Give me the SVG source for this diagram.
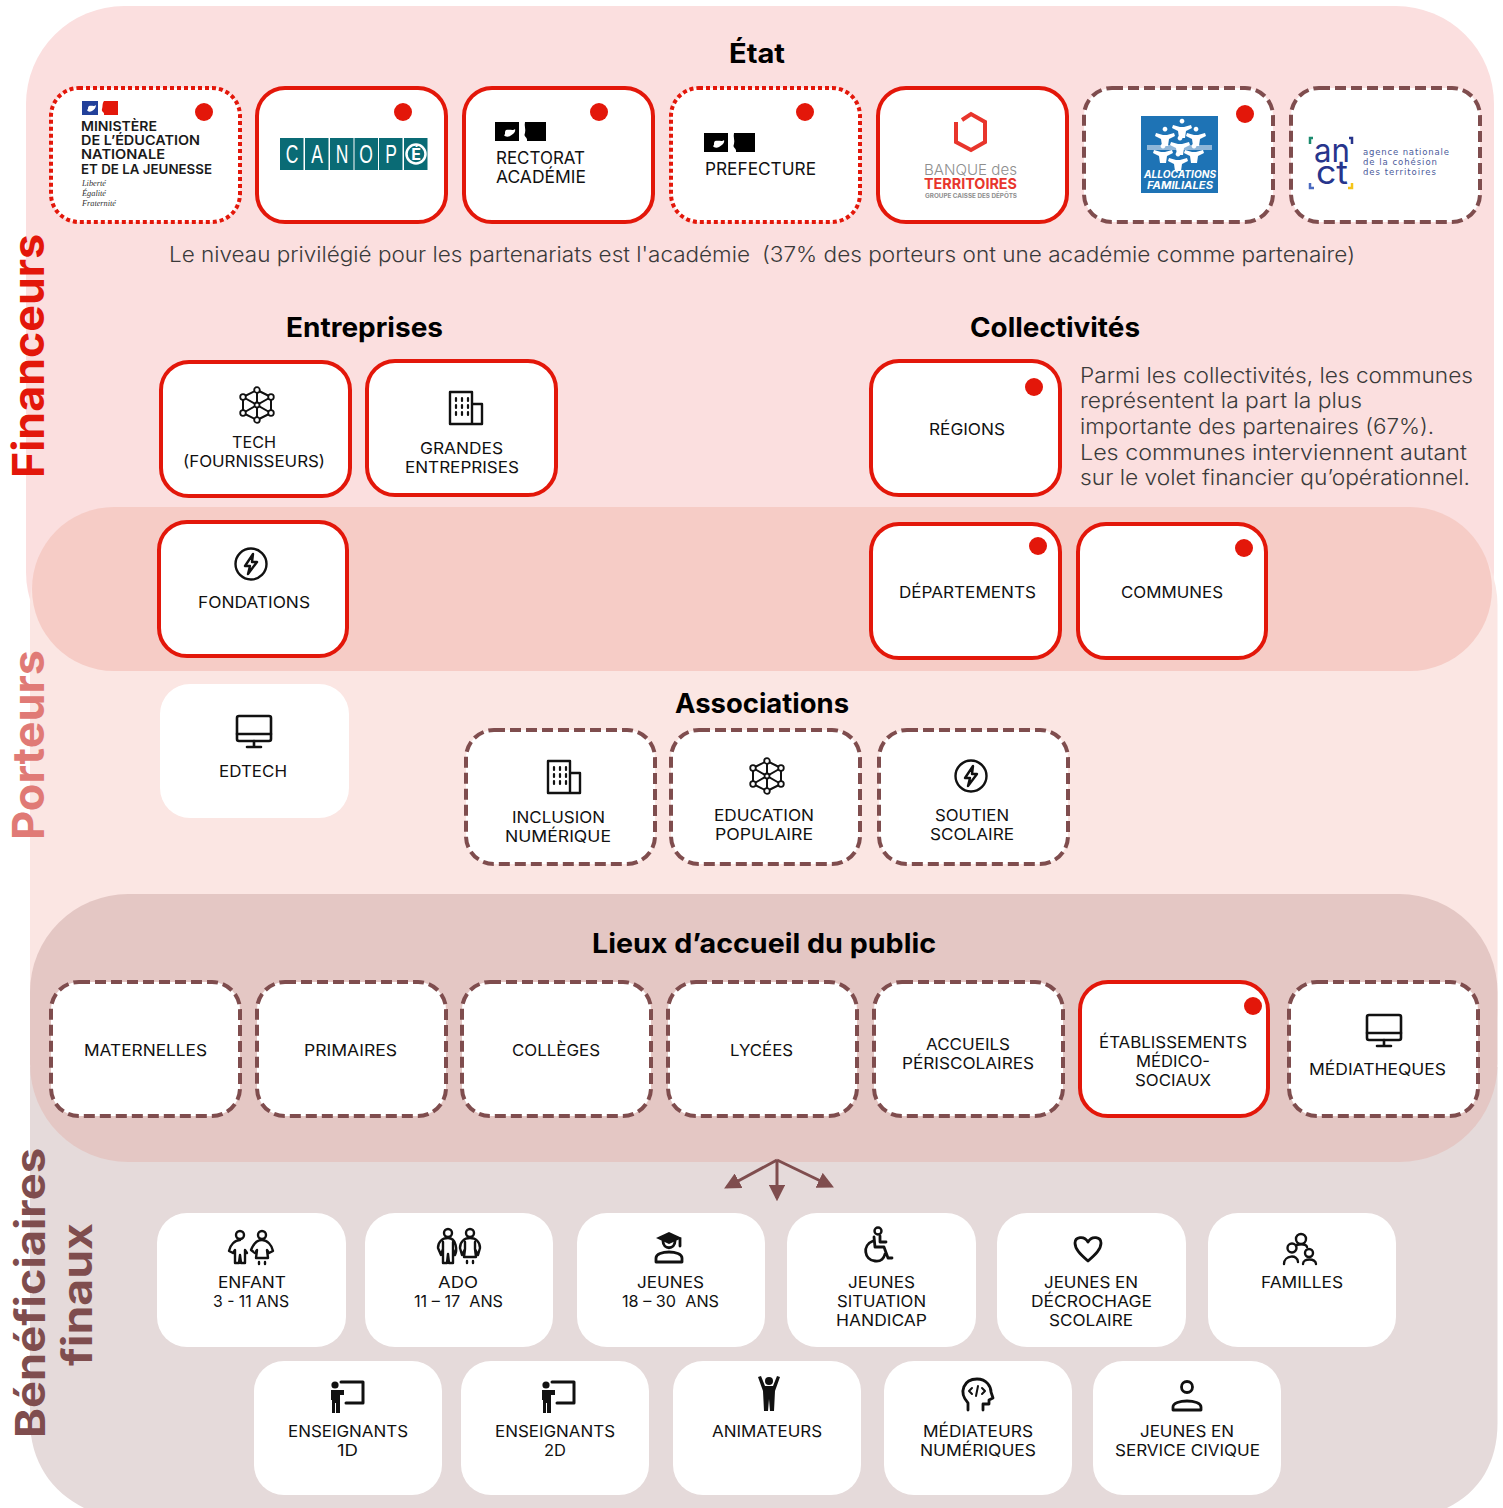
<svg xmlns="http://www.w3.org/2000/svg" xmlns:xlink="http://www.w3.org/1999/xlink" width="1503" height="1508" viewBox="0 0 1503 1508">
<style>
text{font-family:"Inter","Liberation Sans",sans-serif;fill:#111}
.l{font-size:16px}
.h{font-size:27px;font-weight:700;fill:#000}
.p{font-size:21px;fill:#3a3a3a;font-weight:300}
.s{font-size:44px;font-weight:700}
.box{fill:#fff;stroke-width:4}
.red{stroke:#e3170a}
.dash{stroke:#7f4d4e;stroke-dasharray:11 5}
.dot{stroke:#e3170a;stroke-dasharray:4 3}
.plain{stroke:none}
.m{fill:#e3170a}
.i{fill:none;stroke:#111;stroke-width:2.4;stroke-linejoin:round;stroke-linecap:round}
.f{fill:#111;stroke:none}
.log{font-weight:600;font-size:13.5px;fill:#1a1a1a}
.ser{font-family:"Liberation Serif",serif;font-style:italic;font-size:8px;fill:#333}
.caf{font-weight:700;font-style:italic;font-size:10px;fill:#fff}
.anc{font-family:"DejaVu Sans",sans-serif;font-size:8.5px;fill:#4a5a9a}
.tile{font-family:"Liberation Sans",sans-serif;font-size:25px;fill:#fff;text-anchor:middle}
</style>
<defs>
<marker id="ah" viewBox="0 0 10 10" refX="8" refY="5" markerWidth="5.5" markerHeight="5.5" orient="auto-start-reverse"><path d="M0,0L10,5L0,10Z" fill="#7f4d4e"/></marker>
<g id="ic-net" class="i"><path d="M0,-15L14,-8V8L0,15L-14,8V-8ZM0,-15V15M-14,-8L14,8M14,-8L-14,8" stroke-width="2"/><g fill="#fff" stroke-width="1.8"><circle cy="-15" r="2.800"/><circle cx="14" cy="-8" r="2.800"/><circle cx="14" cy="8" r="2.800"/><circle cy="15" r="2.800"/><circle cx="-14" cy="8" r="2.800"/><circle cx="-14" cy="-8" r="2.800"/><circle r="2.500"/></g></g>
<g id="ic-bld" class="i"><path d="M-16,16V-16H6V16ZM6,-4H16V16H6"/><path d="M-10,-10v3M-4,-10v3M2,-10v3M-10,-3v3M-4,-3v3M2,-3v3M-10,4v3M-4,4v3M2,4v3" stroke-width="2.200"/></g>
<g id="ic-bolt" class="i"><circle r="15.500"/><path d="M2,-10L-6,2H-1L-3,10L6,-2H1Z"/></g>
<g id="ic-mon" class="i"><rect x="-17" y="-15" width="34" height="25" rx="2" stroke-width="2.600"/><path d="M-17,3H17M0,10V15M-7,16H7" stroke-width="2.600"/></g>
<g id="ic-kids" class="i"><circle cx="-11" cy="-13" r="4"/><circle cx="11" cy="-13" r="4"/><path d="M-11,-8C-16,-8-21,-3-22,3L-18,5L-16,2V15H-12L-11,7L-10,15H-6V2L-4,5"/><path d="M11,-8C16,-8 21,-3 22,3L18,5L16,2L17,10H5L6,2L4,5L0,2C2,-3 6,-8 11,-8ZM8,14v2M14,14v2"/></g>
<g id="ic-ado" class="i"><circle cx="-11" cy="-14" r="4"/><circle cx="11" cy="-14" r="4"/><path d="M-11,-9C-17,-9-21,-5-21,1L-18,8L-16,2V16H-12L-11,7L-10,16H-6V2L-4,8C-2,4-2,-9-11,-9ZM-16,-5V2M-6,-5V2"/><path d="M11,-9C17,-9 21,-5 21,1L19,8L16,2L17,10H5L6,2L3,8L1,1C1,-5 5,-9 11,-9ZM6,-5V2M16,-5V2M8,14v2M14,14v2"/></g>
<g id="ic-grad" class="i"><path class="f" d="M0,-15L13,-9L0,-3L-13,-9Z"/><path d="M-6,-6C-6,3 6,3 6,-6M11,-8V-1M-13,15V11C-13,3 13,3 13,11V15Z" stroke-width="2.800"/></g>
<g id="ic-wheel" class="i"><circle cx="0" cy="-14" r="3.500"/><path d="M-4,-8L-3,2H6L10,13H14M2,-9L2,-3L8,-3M-5,-4C-16,0-14,15-3,16C3,17 6,13 7,9" stroke-width="2.800"/></g>
<g id="ic-heart" class="i"><path d="M0,12C-8,5-13,0-13,-6C-13,-12-4,-14 0,-7C4,-14 13,-12 13,-6C13,0 8,5 0,12Z" stroke-width="2.800"/></g>
<g id="ic-fam" class="i" stroke-width="2.800"><circle cx="1" cy="-11" r="5"/><circle cx="-8" cy="-2" r="4.500"/><circle cx="9" cy="3" r="4"/><path d="M-16,14C-16,5-2,4 -2,12M3,14C3,8 16,8 16,14M-4,-4C-4,-6 6,-7 7,-3"/></g>
<g id="ic-teach"><circle class="f" cx="-13" cy="-11" r="3.600"/><path class="f" d="M-17,-6H-4V-1H-8V17H-12V7H-13V17H-16V4H-17Z"/><path class="i" style="stroke-width:3" d="M-7,-14H15V7H-2"/></g>
<g id="ic-cheer"><circle class="f" cx="0" cy="-13" r="4"/><path class="f" d="M-11,-17L-8,-18L-4,-8H4L8,-18L11,-17L6,-3L5,17H1L0,5L-1,17H-5L-6,-3Z"/></g>
<g id="ic-head" class="i"><path d="M-9,15V8C-19,-3-13,-16 0,-16C10,-16 14,-8 14,-3L16,3L12,5V9H6V15" stroke-width="2.800"/><path d="M-5,-7L-8,-4L-5,-1M5,-7L8,-4L5,-1M1,-9L-1,1" stroke-width="2"/></g>
<g id="ic-pers" class="i"><circle cy="-9" r="5.500" stroke-width="2.800"/><path d="M-14,14V11C-14,3 14,3 14,11V14Z" stroke-width="2.800"/></g>
<path id="cafp" d="M0,-5.500a2.400,2.400 0 1,1 .01,0M-9,-4L-2,-2H2L9,-4L10,-1L4,2L3,9H-3L-4,2L-10,-1Z" fill="#fff"/>
<g id="marianne"><path d="M0,0H24V19H0Z" fill="#000"/><path d="M30,0H51V19H32C33,15 28,15 30,11C31,7 29,4 30,0Z" fill="#000"/><path d="M11,8C15,7 18,9 20,7C21,10 18,12 15,14C13,15 10,15 9,13C11,12 9,10 11,8Z" fill="#fff"/></g>
</defs>

<g id="backgrounds">
<rect x="26" y="6" width="1468" height="664" rx="98" fill="#fbdfdf"/>
<rect x="30" y="507" width="1467.500" height="600" rx="98" fill="#fbe6e3"/>
<path d="M30,1067H1497.500V1423C1497.500,1462 1480,1492 1447,1508H84C52,1492 30,1462 30,1420Z" fill="#e5dada"/>
<rect x="32" y="507" width="1460" height="164" rx="82" fill="#f6ccc6"/>
<rect x="30" y="894" width="1467.500" height="268" rx="98" fill="#e4c7c4"/>
</g>

<g id="section-labels">
<text class="s" transform="translate(44,478) rotate(-90)" textLength="244" lengthAdjust="spacingAndGlyphs" style="fill:#e3170a">Financeurs</text>
<text class="s" transform="translate(44,840) rotate(-90)" textLength="190" lengthAdjust="spacingAndGlyphs" style="fill:#e07a76">Porteurs</text>
<text class="s" transform="translate(45,1438) rotate(-90)" textLength="290" lengthAdjust="spacingAndGlyphs" style="fill:#7f4d4e;font-size:41px">Bénéficiaires</text>
<text class="s" transform="translate(92,1366) rotate(-90)" textLength="143" lengthAdjust="spacingAndGlyphs" style="fill:#7f4d4e;font-size:41px">finaux</text>
</g>

<g id="headings">
<text class="h" x="729" y="63" textLength="56" lengthAdjust="spacingAndGlyphs">État</text>
<text class="h" x="286" y="337" textLength="157" lengthAdjust="spacingAndGlyphs">Entreprises</text>
<text class="h" x="970" y="337" textLength="170" lengthAdjust="spacingAndGlyphs">Collectivités</text>
<text class="h" x="675" y="713" textLength="174" lengthAdjust="spacingAndGlyphs">Associations</text>
<text class="h" x="592" y="953" textLength="344" lengthAdjust="spacingAndGlyphs">Lieux d’accueil du public</text>
<text class="p" x="169" y="262" textLength="581" lengthAdjust="spacingAndGlyphs">Le niveau privilégié pour les partenariats est l'académie</text>
<text class="p" x="762" y="262" textLength="593" lengthAdjust="spacingAndGlyphs">(37% des porteurs ont une académie comme partenaire)</text>
<text class="p" x="1080" y="383" textLength="393" lengthAdjust="spacingAndGlyphs">Parmi les collectivités, les communes</text>
<text class="p" x="1080" y="408" textLength="282" lengthAdjust="spacingAndGlyphs">représentent la part la plus</text>
<text class="p" x="1080" y="434" textLength="354" lengthAdjust="spacingAndGlyphs">importante des partenaires (67%).</text>
<text class="p" x="1080" y="460" textLength="387" lengthAdjust="spacingAndGlyphs">Les communes interviennent autant</text>
<text class="p" x="1080" y="485" textLength="390" lengthAdjust="spacingAndGlyphs">sur le volet financier qu’opérationnel.</text>
</g>

<g id="connectors" fill="none" stroke="#7f4d4e" stroke-width="3">
<path d="M777,1160L727,1187" marker-end="url(#ah)"/>
<path d="M777,1160V1198" marker-end="url(#ah)"/>
<path d="M777,1160L831,1186" marker-end="url(#ah)"/>
</g>

<g id="n-ministere"><rect class="box dot" x="51" y="88" width="189" height="134" rx="28"/>
<path d="M82,101H98V115H82Z" fill="#22409a"/><path d="M104,101H118V115H104C105,112 101,112 102,109C103,106 102,104 104,101Z" fill="#e3170a"/><path d="M89,106C92,105 94,107 96,105C96,108 94,110 92,111C90,112 88,112 87,110C89,109 87,108 89,106Z" fill="#fff"/>
<text class="log" x="81" y="131" textLength="76" lengthAdjust="spacingAndGlyphs">MINISTÈRE</text>
<text class="log" x="81" y="145" textLength="119" lengthAdjust="spacingAndGlyphs">DE L’ÉDUCATION</text>
<text class="log" x="81" y="159" textLength="84" lengthAdjust="spacingAndGlyphs">NATIONALE</text>
<text class="log" x="81" y="174" textLength="131" lengthAdjust="spacingAndGlyphs">ET DE LA JEUNESSE</text>
<text class="ser" x="82" y="186" textLength="24" lengthAdjust="spacingAndGlyphs">Liberté</text>
<text class="ser" x="82" y="196" textLength="24" lengthAdjust="spacingAndGlyphs">Égalité</text>
<text class="ser" x="82" y="206" textLength="34" lengthAdjust="spacingAndGlyphs">Fraternité</text>
<circle class="m" cx="204" cy="112" r="9"/></g>

<g id="n-canope"><rect class="box red" x="257" y="88" width="189" height="134" rx="28"/>
<g fill="#0a6b75"><rect x="280" y="138" width="23.500" height="32"/><rect x="305" y="138" width="23.500" height="32"/><rect x="330" y="138" width="23.500" height="32"/><rect x="354.500" y="138" width="23.500" height="32"/><rect x="379" y="138" width="23.500" height="32"/><rect x="404" y="138" width="23.500" height="32"/></g>
<text class="tile" transform="translate(292,163) scale(.7,1)">C</text><text class="tile" transform="translate(317,163) scale(.7,1)">A</text><text class="tile" transform="translate(342,163) scale(.7,1)">N</text><text class="tile" transform="translate(366,163) scale(.7,1)">O</text><text class="tile" transform="translate(391,163) scale(.7,1)">P</text>
<circle cx="416" cy="154" r="9.500" fill="none" stroke="#fff" stroke-width="2.500"/><text x="416" y="160" text-anchor="middle" style="font-size:16px;font-weight:700;fill:#fff">É</text>
<circle class="m" cx="403" cy="112" r="9"/></g>

<g id="n-rectorat"><rect class="box red" x="464" y="88" width="189" height="134" rx="28"/>
<use xlink:href="#marianne" href="#marianne" x="495" y="122"/>
<text class="l" style="font-size:17px" x="496" y="164" textLength="89" lengthAdjust="spacingAndGlyphs">RECTORAT</text>
<text class="l" style="font-size:17px" x="496" y="183" textLength="90" lengthAdjust="spacingAndGlyphs">ACADÉMIE</text>
<circle class="m" cx="599" cy="112" r="9"/></g>

<g id="n-prefecture"><rect class="box dot" x="671" y="88" width="189" height="134" rx="28"/>
<use xlink:href="#marianne" href="#marianne" x="704" y="133"/>
<text class="l" style="font-size:17px" x="705" y="175" textLength="111" lengthAdjust="spacingAndGlyphs">PREFECTURE</text>
<circle class="m" cx="805" cy="112" r="9"/></g>

<g id="n-banque"><rect class="box red" x="878" y="88" width="189" height="134" rx="28"/>
<path d="M962,120L971,114L985,122V142L971,150L956,142V122" fill="none" stroke="#e8352c" stroke-width="4"/>
<text style="font-size:15px;font-weight:300;fill:#8e8e8e"><tspan x="924" y="175" textLength="93" lengthAdjust="spacingAndGlyphs">BANQUE des</tspan><tspan x="924" y="189" textLength="93" lengthAdjust="spacingAndGlyphs" style="font-weight:700;fill:#e8352c">TERRITOIRES</tspan><tspan x="925" y="198" textLength="92" lengthAdjust="spacingAndGlyphs" style="font-size:6px;font-weight:700">GROUPE CAISSE DES DÉPÔTS</tspan></text></g>

<g id="n-caf"><rect class="box dash" x="1084" y="88" width="189" height="134" rx="28"/>
<rect x="1141" y="116" width="77" height="77" fill="#1e73b5"/>
<rect x="1147" y="145" width="65" height="5" fill="#8fb6d8"/>
<use xlink:href="#cafp" href="#cafp" x="1182" y="129"/><use xlink:href="#cafp" href="#cafp" x="1165" y="137"/><use xlink:href="#cafp" href="#cafp" x="1196" y="137"/><use xlink:href="#cafp" href="#cafp" x="1180" y="146"/><use xlink:href="#cafp" href="#cafp" x="1163" y="154"/><use xlink:href="#cafp" href="#cafp" x="1194" y="154"/><use xlink:href="#cafp" href="#cafp" x="1178" y="162"/>
<text class="caf" x="1144" y="178" textLength="72" lengthAdjust="spacingAndGlyphs">ALLOCATIONS</text>
<text class="caf" x="1147" y="189" textLength="66" lengthAdjust="spacingAndGlyphs">FAMILIALES</text>
<circle class="m" cx="1245" cy="114" r="9"/></g>

<g id="n-anct"><rect class="box dash" x="1291" y="88" width="189" height="134" rx="28"/>
<text style="font-size:33px;fill:#27358c;font-weight:400"><tspan x="1314" y="162" textLength="36" lengthAdjust="spacingAndGlyphs">an</tspan><tspan x="1316" y="184" textLength="32" lengthAdjust="spacingAndGlyphs">ct</tspan></text>
<path d="M1313,138h-3v6" fill="none" stroke="#1a8a6e" stroke-width="2.500"/><path d="M1349,138h3v6" fill="none" stroke="#27358c" stroke-width="2.500"/><path d="M1310,183v5h4" fill="none" stroke="#4a6ac0" stroke-width="2.500"/><path d="M1352,183v5h-4" fill="none" stroke="#f5c518" stroke-width="2.500"/>
<text class="anc" x="1363" y="155" textLength="86">agence nationale</text>
<text class="anc" x="1363" y="165" textLength="74">de la cohésion</text>
<text class="anc" x="1363" y="175" textLength="73">des territoires</text></g>

<g id="n-tech"><rect class="box red" x="161" y="362" width="189" height="134" rx="28"/><use xlink:href="#ic-net" href="#ic-net" x="257" y="405"/>
<text class="l" x="232" y="448" textLength="44" lengthAdjust="spacingAndGlyphs">TECH</text><text class="l" x="183" y="467" textLength="142" lengthAdjust="spacingAndGlyphs">(FOURNISSEURS)</text></g>
<g id="n-grandes"><rect class="box red" x="367" y="361" width="189" height="134" rx="28"/><use xlink:href="#ic-bld" href="#ic-bld" x="466" y="408"/>
<text class="l" x="420" y="454" textLength="83" lengthAdjust="spacingAndGlyphs">GRANDES</text><text class="l" x="405" y="473" textLength="114" lengthAdjust="spacingAndGlyphs">ENTREPRISES</text></g>
<g id="n-regions"><rect class="box red" x="871" y="361" width="189" height="134" rx="28"/>
<text class="l" x="929" y="435" textLength="76" lengthAdjust="spacingAndGlyphs">RÉGIONS</text><circle class="m" cx="1034" cy="387" r="9"/></g>
<g id="n-fondations"><rect class="box red" x="159" y="522" width="188" height="134" rx="28"/><use xlink:href="#ic-bolt" href="#ic-bolt" x="251" y="564"/>
<text class="l" x="198" y="608" textLength="112" lengthAdjust="spacingAndGlyphs">FONDATIONS</text></g>
<g id="n-departements"><rect class="box red" x="871" y="524" width="189" height="134" rx="28"/>
<text class="l" x="899" y="598" textLength="137" lengthAdjust="spacingAndGlyphs">DÉPARTEMENTS</text><circle class="m" cx="1038" cy="546" r="9"/></g>
<g id="n-communes"><rect class="box red" x="1078" y="524" width="188" height="134" rx="28"/>
<text class="l" x="1121" y="598" textLength="102" lengthAdjust="spacingAndGlyphs">COMMUNES</text><circle class="m" cx="1244" cy="548" r="9"/></g>
<g id="n-edtech"><rect class="box plain" x="160" y="684" width="189" height="134" rx="30"/><use xlink:href="#ic-mon" href="#ic-mon" x="254" y="731"/>
<text class="l" x="219" y="777" textLength="68" lengthAdjust="spacingAndGlyphs">EDTECH</text></g>

<g id="n-inclusion"><rect class="box dash" x="466" y="730" width="189" height="134" rx="28"/><use xlink:href="#ic-bld" href="#ic-bld" x="564" y="777"/>
<text class="l" x="512" y="823" textLength="93" lengthAdjust="spacingAndGlyphs">INCLUSION</text><text class="l" x="505" y="842" textLength="106" lengthAdjust="spacingAndGlyphs">NUMÉRIQUE</text></g>
<g id="n-education"><rect class="box dash" x="671" y="730" width="189" height="134" rx="28"/><use xlink:href="#ic-net" href="#ic-net" x="767" y="776"/>
<text class="l" x="714" y="821" textLength="100" lengthAdjust="spacingAndGlyphs">EDUCATION</text><text class="l" x="715" y="840" textLength="98" lengthAdjust="spacingAndGlyphs">POPULAIRE</text></g>
<g id="n-soutien"><rect class="box dash" x="879" y="730" width="189" height="134" rx="28"/><use xlink:href="#ic-bolt" href="#ic-bolt" x="971" y="776"/>
<text class="l" x="935" y="821" textLength="74" lengthAdjust="spacingAndGlyphs">SOUTIEN</text><text class="l" x="930" y="840" textLength="84" lengthAdjust="spacingAndGlyphs">SCOLAIRE</text></g>

<g id="n-maternelles"><rect class="box dash" x="51" y="982" width="189" height="134" rx="28"/><text class="l" x="84" y="1056" textLength="123" lengthAdjust="spacingAndGlyphs">MATERNELLES</text></g>
<g id="n-primaires"><rect class="box dash" x="257" y="982" width="189" height="134" rx="28"/><text class="l" x="304" y="1056" textLength="93" lengthAdjust="spacingAndGlyphs">PRIMAIRES</text></g>
<g id="n-colleges"><rect class="box dash" x="462" y="982" width="189" height="134" rx="28"/><text class="l" x="512" y="1056" textLength="88" lengthAdjust="spacingAndGlyphs">COLLÈGES</text></g>
<g id="n-lycees"><rect class="box dash" x="668" y="982" width="189" height="134" rx="28"/><text class="l" x="730" y="1056" textLength="63" lengthAdjust="spacingAndGlyphs">LYCÉES</text></g>
<g id="n-accueils"><rect class="box dash" x="874" y="982" width="189" height="134" rx="28"/><text class="l" x="926" y="1050" textLength="84" lengthAdjust="spacingAndGlyphs">ACCUEILS</text><text class="l" x="902" y="1069" textLength="132" lengthAdjust="spacingAndGlyphs">PÉRISCOLAIRES</text></g>
<g id="n-medico"><rect class="box red" x="1080" y="982" width="188" height="134" rx="28"/><text class="l" x="1099" y="1048" textLength="148" lengthAdjust="spacingAndGlyphs">ÉTABLISSEMENTS</text><text class="l" x="1136" y="1067" textLength="74" lengthAdjust="spacingAndGlyphs">MÉDICO-</text><text class="l" x="1135" y="1086" textLength="76" lengthAdjust="spacingAndGlyphs">SOCIAUX</text><circle class="m" cx="1253" cy="1006" r="9"/></g>
<g id="n-mediatheques"><rect class="box dash" x="1289" y="982" width="189" height="134" rx="28"/><use xlink:href="#ic-mon" href="#ic-mon" x="1384" y="1030"/><text class="l" x="1309" y="1075" textLength="137" lengthAdjust="spacingAndGlyphs">MÉDIATHEQUES</text></g>

<g id="n-enfant"><rect class="box plain" x="157" y="1213" width="189" height="134" rx="30"/><use xlink:href="#ic-kids" href="#ic-kids" x="251" y="1248"/><text class="l" x="218" y="1288" textLength="68" lengthAdjust="spacingAndGlyphs">ENFANT</text><text class="l" x="213" y="1307" textLength="76" lengthAdjust="spacingAndGlyphs">3 - 11 ANS</text></g>
<g id="n-ado"><rect class="box plain" x="365" y="1213" width="188" height="134" rx="30"/><use xlink:href="#ic-ado" href="#ic-ado" x="459" y="1247"/><text class="l" x="438" y="1288" textLength="40" lengthAdjust="spacingAndGlyphs">ADO</text><text class="l" x="414" y="1307" textLength="89" lengthAdjust="spacingAndGlyphs" xml:space="preserve">11 – 17  ANS</text></g>
<g id="n-jeunes"><rect class="box plain" x="577" y="1213" width="188" height="134" rx="30"/><use xlink:href="#ic-grad" href="#ic-grad" x="669" y="1247"/><text class="l" x="637" y="1288" textLength="67" lengthAdjust="spacingAndGlyphs">JEUNES</text><text class="l" x="622" y="1307" textLength="97" lengthAdjust="spacingAndGlyphs" xml:space="preserve">18 – 30  ANS</text></g>
<g id="n-handicap"><rect class="box plain" x="787" y="1213" width="189" height="134" rx="30"/><use xlink:href="#ic-wheel" href="#ic-wheel" x="878" y="1245"/><text class="l" x="848" y="1288" textLength="67" lengthAdjust="spacingAndGlyphs">JEUNES</text><text class="l" x="837" y="1307" textLength="89" lengthAdjust="spacingAndGlyphs">SITUATION</text><text class="l" x="836" y="1326" textLength="91" lengthAdjust="spacingAndGlyphs">HANDICAP</text></g>
<g id="n-decrochage"><rect class="box plain" x="997" y="1213" width="189" height="134" rx="30"/><use xlink:href="#ic-heart" href="#ic-heart" x="1088" y="1249"/><text class="l" x="1044" y="1288" textLength="94" lengthAdjust="spacingAndGlyphs">JEUNES EN</text><text class="l" x="1031" y="1307" textLength="121" lengthAdjust="spacingAndGlyphs">DÉCROCHAGE</text><text class="l" x="1049" y="1326" textLength="84" lengthAdjust="spacingAndGlyphs">SCOLAIRE</text></g>
<g id="n-familles"><rect class="box plain" x="1208" y="1213" width="188" height="134" rx="30"/><use xlink:href="#ic-fam" href="#ic-fam" x="1300" y="1250"/><text class="l" x="1261" y="1288" textLength="82" lengthAdjust="spacingAndGlyphs">FAMILLES</text></g>

<g id="n-ens1"><rect class="box plain" x="254" y="1361" width="188" height="134" rx="30"/><use xlink:href="#ic-teach" href="#ic-teach" x="348" y="1396"/><text class="l" x="288" y="1437" textLength="120" lengthAdjust="spacingAndGlyphs">ENSEIGNANTS</text><text class="l" x="337" y="1456" textLength="21" lengthAdjust="spacingAndGlyphs">1D</text></g>
<g id="n-ens2"><rect class="box plain" x="461" y="1361" width="188" height="134" rx="30"/><use xlink:href="#ic-teach" href="#ic-teach" x="559" y="1396"/><text class="l" x="495" y="1437" textLength="120" lengthAdjust="spacingAndGlyphs">ENSEIGNANTS</text><text class="l" x="544" y="1456" textLength="22" lengthAdjust="spacingAndGlyphs">2D</text></g>
<g id="n-animateurs"><rect class="box plain" x="673" y="1361" width="188" height="134" rx="30"/><use xlink:href="#ic-cheer" href="#ic-cheer" x="769" y="1394"/><text class="l" x="712" y="1437" textLength="110" lengthAdjust="spacingAndGlyphs">ANIMATEURS</text></g>
<g id="n-mediateurs"><rect class="box plain" x="884" y="1361" width="188" height="134" rx="30"/><use xlink:href="#ic-head" href="#ic-head" x="977" y="1395"/><text class="l" x="923" y="1437" textLength="110" lengthAdjust="spacingAndGlyphs">MÉDIATEURS</text><text class="l" x="920" y="1456" textLength="116" lengthAdjust="spacingAndGlyphs">NUMÉRIQUES</text></g>
<g id="n-civique"><rect class="box plain" x="1093" y="1361" width="188" height="134" rx="30"/><use xlink:href="#ic-pers" href="#ic-pers" x="1187" y="1396"/><text class="l" x="1140" y="1437" textLength="94" lengthAdjust="spacingAndGlyphs">JEUNES EN</text><text class="l" x="1115" y="1456" textLength="145" lengthAdjust="spacingAndGlyphs">SERVICE CIVIQUE</text></g>
</svg>
